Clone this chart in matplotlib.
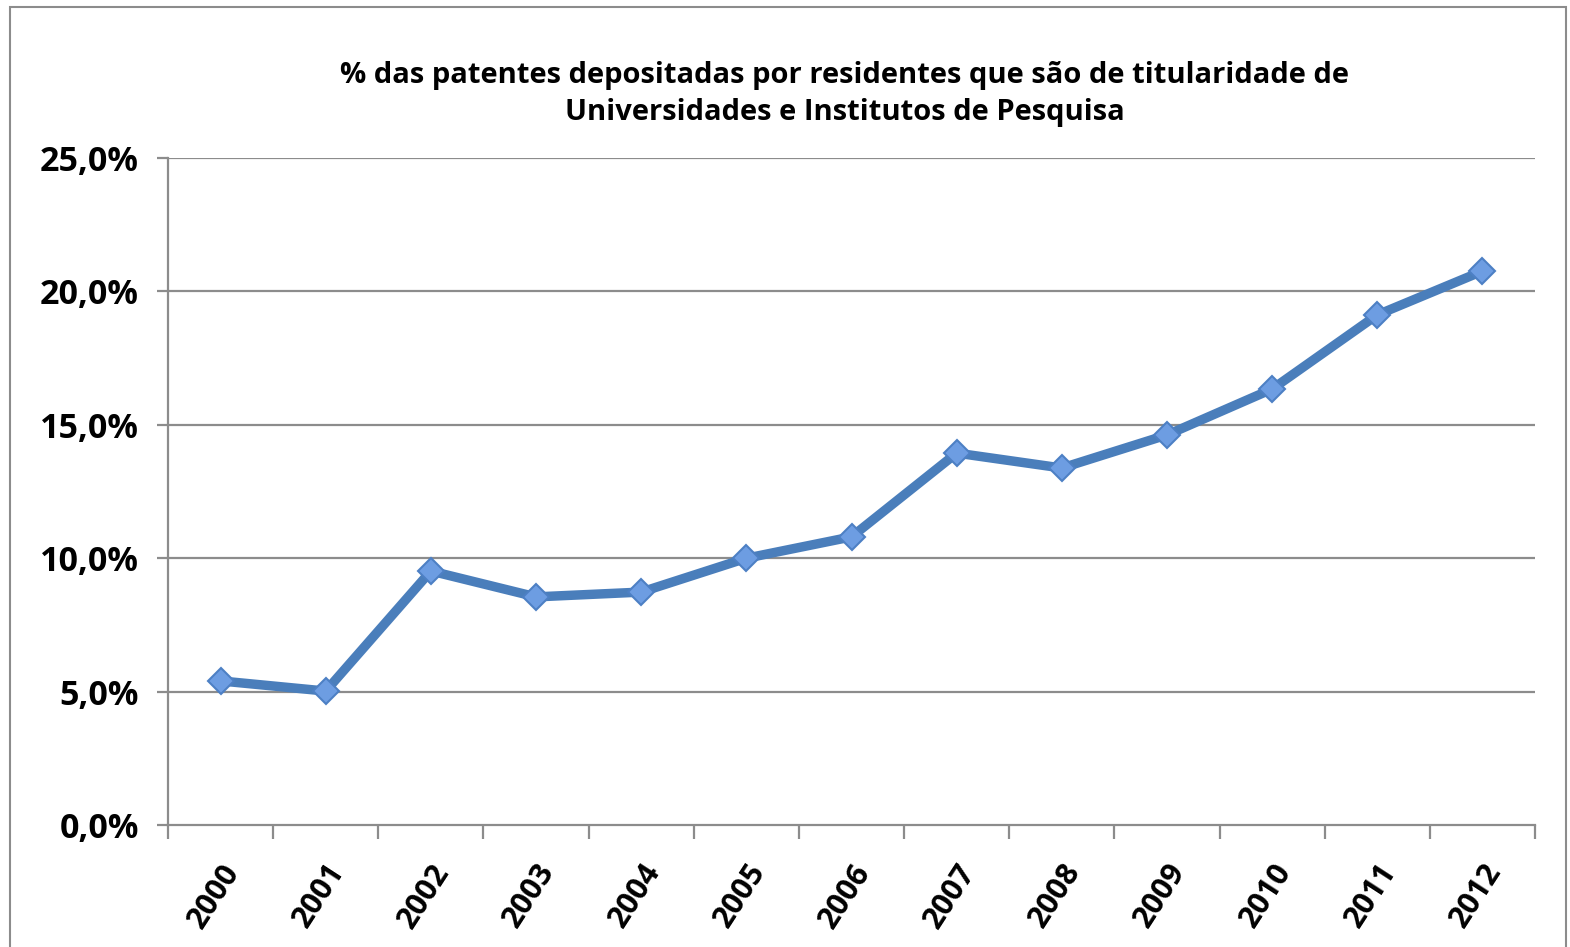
import matplotlib
matplotlib.use("Agg")
import matplotlib.pyplot as plt
from matplotlib.patches import Rectangle

years = ["2000", "2001", "2002", "2003", "2004", "2005", "2006",
         "2007", "2008", "2009", "2010", "2011", "2012"]
values = [5.4, 5.02, 9.52, 8.55, 8.73, 10.0, 10.8,
          13.94, 13.38, 14.62, 16.34, 19.12, 20.76]
yticks = [0, 5, 10, 15, 20, 25]
ytick_labels = ["0,0%", "5,0%", "10,0%", "15,0%", "20,0%", "25,0%"]
title = ("% das patentes depositadas por residentes que são de titularidade de\n"
         "Universidades e Institutos de Pesquisa")

FONT = "Open Sans"

W, H = 1570, 947
fig = plt.figure(figsize=(W / 100, H / 100), dpi=100)
fig.patch.set_facecolor("white")

# outer chart frame
fig.add_artist(Rectangle((10 / W, -0.01), (1566 - 10) / W, 1.01 - 7 / H,
                         transform=fig.transFigure, fill=False,
                         edgecolor="#8c8c8c", linewidth=1.5))

ax = fig.add_axes([168 / W, 1 - 825 / H, (1535 - 168) / W, (825 - 158) / H])
x = list(range(len(years)))

grid_c = "#8c8c8c"
for v in yticks[1:]:
    ax.axhline(v, color=grid_c, linewidth=1.6, zorder=1)

ax.plot(x, values, color="#4a7ebb", linewidth=6.8, zorder=3,
        solid_capstyle="round", solid_joinstyle="round")
ax.plot(x, values, linestyle="none", marker="D", markersize=13.5,
        markerfacecolor="#6d9de2", markeredgecolor="#4d80c4",
        markeredgewidth=1.5, zorder=4)

ax.set_xlim(-0.5, len(years) - 0.5)
ax.set_ylim(0, 25)
ax.set_yticks(yticks)
ax.set_yticklabels(ytick_labels)
ax.set_xticks([i - 0.5 for i in range(len(years) + 1)], minor=False)
ax.set_xticklabels([""] * (len(years) + 1))
ax.set_xticks(x, minor=True)
ax.set_xticklabels(years, minor=True, rotation=57, ha="right",
                   va="top", rotation_mode="anchor")

for s in ["top", "right"]:
    ax.spines[s].set_visible(False)
for s in ["left", "bottom"]:
    ax.spines[s].set_color(grid_c)
    ax.spines[s].set_linewidth(1.6)

ax.tick_params(axis="y", which="major", length=8, width=1.6, color=grid_c,
               direction="out", pad=13)
ax.tick_params(axis="x", which="major", length=10, width=1.6, color=grid_c,
               direction="out")
ax.tick_params(axis="x", which="minor", length=0, pad=24)

for lab in ax.get_yticklabels():
    lab.set_fontfamily(FONT)
    lab.set_fontweight("bold")
    lab.set_fontsize(24.5)
for lab in ax.get_xticklabels(minor=True):
    lab.set_fontfamily(FONT)
    lab.set_fontweight("bold")
    lab.set_fontsize(22)

fig.text(845 / W, 1 - 94 / H, title, ha="center", va="center",
         fontfamily=FONT, fontweight="bold",
         fontsize=21, linespacing=1.4)

fig.savefig("out.png", dpi=100, facecolor="white")
